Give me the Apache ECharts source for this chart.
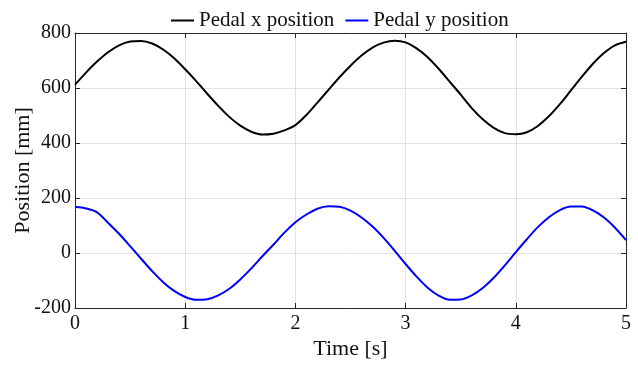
<!DOCTYPE html>
<html>
<head>
<meta charset="utf-8">
<script src="https://cdn.jsdelivr.net/npm/echarts@6/dist/echarts.min.js"></script>
<style>
  html, body { margin: 0; padding: 0; background: #fff; }
  #chart { width: 638px; height: 367px; }
</style>
</head>
<body>
<div id="chart"></div>
<script>
// Sample times [s], 0.1 s apart
const time = [
  0.0, 0.1, 0.2, 0.3, 0.4, 0.5, 0.6, 0.7, 0.8, 0.9,
  1.0, 1.1, 1.2, 1.3, 1.4, 1.5, 1.6, 1.7, 1.8, 1.9,
  2.0, 2.1, 2.2, 2.3, 2.4, 2.5, 2.6, 2.7, 2.8, 2.9,
  3.0, 3.1, 3.2, 3.3, 3.4, 3.5, 3.6, 3.7, 3.8, 3.9,
  4.0, 4.1, 4.2, 4.3, 4.4, 4.5, 4.6, 4.7, 4.8, 4.9,
  5.0
];

// Pedal x position [mm]
const pedalX = [
  612, 656, 696, 730, 755, 769, 771, 762, 740, 708,
  668, 625, 579, 535, 495, 463, 441, 431, 434, 446,
  465, 502, 547, 593, 639, 681, 718, 747, 765, 772,
  766, 744, 712, 670, 623, 576, 527, 486, 455, 436,
  432, 439, 462, 497, 541, 591, 641, 688, 727, 755,
  768
];

// Pedal y position [mm]
const pedalY = [
  168, 162, 148, 110, 70, 25, -21, -66, -106, -138,
  -160, -170, -168, -154, -130, -96, -56, -12, 30, 74,
  112, 140, 161, 170, 168, 154, 129, 96, 55, 9,
  -40, -86, -126, -155, -170, -169, -154, -127, -90, -45,
  3, 50, 94, 130, 156, 169, 169, 155, 129, 92,
  47
];

const xTicks = { min: 0, max: 5, interval: 1 };
const yTicks = { min: -200, max: 800, interval: 200 };

const FONT = "'Liberation Serif', 'DejaVu Serif', serif";
const AXIS_COLOR = '#262626';
const TEXT_COLOR = '#111111';

const pairs = (xs, ys) => xs.map((t, i) => [t, ys[i]]);

const chart = echarts.init(document.getElementById('chart'), null, { renderer: 'canvas' });

// Mirror axes on the top and right close the plot box with inward ticks
const boxAxis = {
  axisLine: { show: true, onZero: false, lineStyle: { color: AXIS_COLOR, width: 1 } },
  axisTick: { show: true, inside: true, length: 5, lineStyle: { color: AXIS_COLOR } },
  axisLabel: { show: false },
  splitLine: { show: false }
};

chart.setOption({
  animation: false,
  backgroundColor: '#ffffff',
  textStyle: { fontFamily: FONT },
  legend: {
    top: 5,
    left: 166,
    itemWidth: 23,
    itemHeight: 2,
    itemGap: 11,
    icon: 'rect',
    textStyle: { fontFamily: FONT, fontSize: 21, color: TEXT_COLOR },
    data: ['Pedal x position', 'Pedal y position']
  },
  grid: {
    left: 75, right: 12, top: 33, bottom: 59,
    containLabel: false,
    outerBoundsMode: 'none'
  },
  xAxis: [
    {
      type: 'value',
      min: xTicks.min, max: xTicks.max, interval: xTicks.interval,
      name: 'Time [s]',
      nameLocation: 'middle',
      nameGap: 30,
      nameMoveOverlap: false,
      nameTextStyle: { fontFamily: FONT, fontSize: 22, color: TEXT_COLOR },
      axisLine: { show: true, onZero: false, lineStyle: { color: AXIS_COLOR, width: 1 } },
      axisTick: { show: true, inside: true, length: 5, lineStyle: { color: AXIS_COLOR } },
      axisLabel: { fontFamily: FONT, fontSize: 20, color: TEXT_COLOR, margin: 6 },
      splitLine: { show: true, lineStyle: { color: '#e2e2e2', width: 1 } }
    },
    Object.assign({
      type: 'value', position: 'top',
      min: xTicks.min, max: xTicks.max, interval: xTicks.interval
    }, boxAxis)
  ],
  yAxis: [
    {
      type: 'value',
      min: yTicks.min, max: yTicks.max, interval: yTicks.interval,
      name: 'Position [mm]',
      nameLocation: 'middle',
      nameGap: 41,
      nameMoveOverlap: false,
      nameTextStyle: { fontFamily: FONT, fontSize: 22, color: TEXT_COLOR },
      axisLine: { show: true, onZero: false, lineStyle: { color: AXIS_COLOR, width: 1 } },
      axisTick: { show: true, inside: true, length: 5, lineStyle: { color: AXIS_COLOR } },
      axisLabel: { fontFamily: FONT, fontSize: 20, color: TEXT_COLOR, margin: 4 },
      splitLine: { show: true, lineStyle: { color: '#e2e2e2', width: 1 } }
    },
    Object.assign({
      type: 'value', position: 'right',
      min: yTicks.min, max: yTicks.max, interval: yTicks.interval
    }, boxAxis)
  ],
  series: [
    {
      name: 'Pedal x position',
      type: 'line',
      data: pairs(time, pedalX),
      smooth: 0.3,
      showSymbol: false,
      color: '#000000',
      lineStyle: { color: '#000000', width: 2 }
    },
    {
      name: 'Pedal y position',
      type: 'line',
      data: pairs(time, pedalY),
      smooth: 0.3,
      showSymbol: false,
      color: '#0000ff',
      lineStyle: { color: '#0000ff', width: 2 }
    }
  ]
});
</script>
</body>
</html>
